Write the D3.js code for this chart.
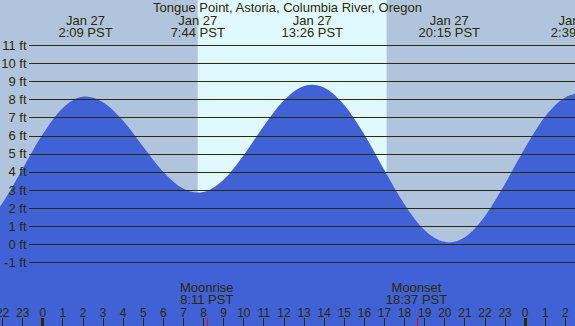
<!DOCTYPE html>
<html>
<head>
<meta charset="utf-8">
<script src="https://cdn.jsdelivr.net/npm/d3@7"></script>
<style>
  html, body { margin: 0; padding: 0; background: #b0c4de; }
  svg { display: block; }
  text { font-family: "Liberation Sans", Arial, sans-serif; fill: #2b2b00; }
</style>
</head>
<body>
<svg id="chart" width="575" height="326"></svg>
<script>
// ---- data (hours relative to midnight, Jan 27 PST) ----
const title = "Tongue Point, Astoria, Columbia River, Oregon";
const tideHours   = [-3, -2, -1, 0, 1, 2, 2.15, 3, 4, 5, 6, 7, 7.733, 8, 9, 10, 11, 12, 13, 13.433, 14, 15, 16, 17, 18, 19, 20, 20.25, 21, 22, 23, 24, 25, 26, 26.65, 27];
const tideHeights = [0.89, 2.25, 4.13, 6.04, 7.50, 8.14, 8.15, 7.85, 6.84, 5.41, 4.01, 3.07, 2.85, 2.88, 3.55, 4.89, 6.50, 7.92, 8.72, 8.80, 8.65, 7.72, 6.10, 4.13, 2.24, 0.80, 0.13, 0.10, 0.37, 1.52, 3.30, 5.29, 7.03, 8.09, 8.30, 8.27];
const eventHours  = [2.15, 7.733, 13.433, 20.25, 26.65];
const eventDates  = ["Jan 27", "Jan 27", "Jan 27", "Jan 27", "Jan 28"];
const eventTimes  = ["2:09 PST", "7:44 PST", "13:26 PST", "20:15 PST", "2:39 PST"];
const sunrise = 7.733, sunset = 17.13;
const moonHours  = [8.183, 18.617];
const moonNames  = ["Moonrise", "Moonset"];
const moonTimes  = ["8:11 PST", "18:37 PST"];
const feetTicks  = [-1, 0, 1, 2, 3, 4, 5, 6, 7, 8, 9, 10, 11];
const hourTicks  = d3.range(-2, 27);

// ---- layout ----
const W = 575, H = 326;
const svg = d3.select("#chart");
const x = d3.scaleLinear().domain([0, 24]).range([42.3, 524.7]);
const y = d3.scaleLinear().domain([-1, 11]).range([262.3, 45]);

// background night / day
svg.append("rect").attr("x", 0).attr("y", 0).attr("width", W).attr("height", H).attr("fill", "#b0c4de");
svg.append("rect").attr("x", x(sunrise)).attr("y", 0)
  .attr("width", x(sunset) - x(sunrise)).attr("height", H).attr("fill", "#e0f8ff");

// tide area
const tide = tideHours.map((h, i) => ({h, v: tideHeights[i]}));
const area = d3.area().x(d => x(d.h)).y0(H).y1(d => y(d.v)).curve(d3.curveMonotoneX);
svg.append("path").datum(tide).attr("d", area).attr("fill", "#4161d6");

// grid lines + y labels
const g = svg.append("g");
g.selectAll("line.grid").data(feetTicks).join("line")
  .attr("x1", 29).attr("x2", W)
  .attr("y1", d => Math.round(y(d)) + 0.5).attr("y2", d => Math.round(y(d)) + 0.5)
  .attr("stroke", "#2b2b00").attr("stroke-width", 1);
g.selectAll("text.ylab").data(feetTicks).join("text")
  .attr("x", 26.5).attr("y", d => y(d)).attr("dy", "0.36em")
  .attr("text-anchor", "end").attr("font-size", 13)
  .text(d => d + " ft");

// title
svg.append("text").attr("x", 287.5).attr("y", 12).attr("text-anchor", "middle")
  .attr("font-size", 13).text(title);

// event labels
eventHours.forEach((h, i) => {
  svg.append("text").attr("x", x(h)).attr("y", 24.5).attr("text-anchor", "middle")
    .attr("font-size", 13).text(eventDates[i]);
  svg.append("text").attr("x", x(h)).attr("y", 36.5).attr("text-anchor", "middle")
    .attr("font-size", 13).text(eventTimes[i]);
});

// moon labels
moonHours.forEach((h, i) => {
  svg.append("text").attr("x", x(h)).attr("y", 292).attr("text-anchor", "middle")
    .attr("font-size", 13).text(moonNames[i]);
  svg.append("text").attr("x", x(h)).attr("y", 303.5).attr("text-anchor", "middle")
    .attr("font-size", 13).text(moonTimes[i]);
});

// hour axis
const axis = d3.axisBottom(x).tickValues(hourTicks).tickSize(0).tickPadding(0)
  .tickFormat(d => String(((d % 24) + 24) % 24));
const ag = svg.append("g").attr("transform", "translate(0,0)").call(axis);
ag.select(".domain").remove();
ag.selectAll("text").attr("font-size", 12).attr("fill", "#2b2b00")
  .attr("font-family", "Liberation Sans, Arial, sans-serif")
  .attr("y", 316.5).attr("dy", 0);

svg.selectAll("line.htick").data(hourTicks).join("line")
  .attr("x1", d => Math.round(x(d)) + 0.5).attr("x2", d => Math.round(x(d)) + 0.5)
  .attr("y1", 318).attr("y2", H)
  .attr("stroke", "#2b2b00").attr("stroke-width", d => (d % 24 === 0 ? 3 : 1));

svg.selectAll("line.mtick").data(moonHours).join("line")
  .attr("x1", d => Math.round(x(d)) + 0.5).attr("x2", d => Math.round(x(d)) + 0.5)
  .attr("y1", 318).attr("y2", H)
  .attr("stroke", "#ff0000").attr("stroke-width", 1);
</script>
</body>
</html>
